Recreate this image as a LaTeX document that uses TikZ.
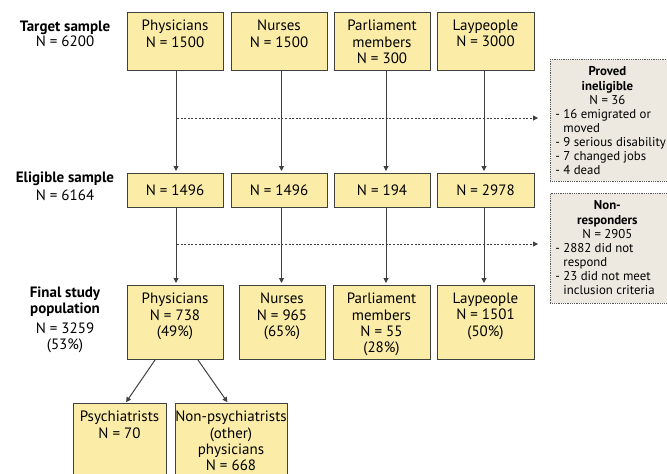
\documentclass[tikz,border=0pt]{standalone}
\usepackage{fontspec}
\setmainfont{PT Sans}
\usetikzlibrary{arrows.meta}
\definecolor{boxfill}{HTML}{FBEDA8}
\definecolor{boxline}{HTML}{404040}
\definecolor{greyfill}{HTML}{EDE9E0}
\definecolor{greyline}{HTML}{5A5A5A}
\newcommand{\ctr}[1]{\makebox[104pt]{#1}}
\newcommand{\dsh}{\makebox[8pt][l]{-}}

\begin{document}
\begin{tikzpicture}[x=1pt,y=-1pt,
  ybox/.style 2 args={draw=boxline, fill=boxfill, line width=1pt, inner sep=0pt, anchor=north,
    execute at begin node={\begin{minipage}[c][#2][t]{#1}\centering\fontsize{15}{16.4}\selectfont\vspace*{7.5pt}},
    execute at end node={\end{minipage}}},
  ebox/.style={draw=boxline, fill=boxfill, line width=1pt, anchor=north, minimum width=96pt,
    minimum height=34pt, inner sep=0pt, font=\fontsize{15}{16.4}\selectfont},
  gbox/.style 2 args={draw=greyline, fill=greyfill, line width=0.8pt, densely dotted, inner sep=0pt,
    anchor=north west,
    execute at begin node={\begin{minipage}[c][#2][t]{#1}\raggedright\leftskip=5pt\fontsize{12.8}{14.1}\selectfont\vspace*{7.5pt}},
    execute at end node={\end{minipage}}},
  lab/.style={align=center, anchor=north, font=\fontsize{15}{16.4}\selectfont},
  arr/.style={draw=boxline, line width=1pt, -{Triangle[length=5pt,width=5pt]}, shorten >=2pt},
  dotarr/.style={draw=boxline, line width=0.9pt, dash pattern=on 2pt off 1.6pt,
    -{Triangle[length=5pt,width=5pt]}}]
  \clip (0,0) rectangle (667,474);

  \node[lab] (labT) at (65,17) {\textbf{Target sample}\\[-1pt]N = 6200};
  \node[lab] (labE) at (65,168) {\textbf{Eligible sample}\\[2pt]N = 6164};
  \node[lab] (labF) at (65,283) {\textbf{Final study}\\\textbf{population}\\[3pt]N = 3259\\(53\%)};

  \node[ybox={96pt}{58pt}] (physT) at (175,12) {Physicians\\N = 1500};
  \node[ybox={96pt}{58pt}] (nursT) at (279,12) {Nurses\\N = 1500};
  \node[ybox={96pt}{58pt}] (parlT) at (382,12) {Parliament\\members\\N = 300};
  \node[ybox={97pt}{58pt}] (layT) at (485.5,12) {Laypeople\\N = 3000};

  \node[ebox] (physE) at (175,173) {N = 1496};
  \node[ebox] (nursE) at (279,173) {N = 1496};
  \node[ebox] (parlE) at (382,173) {N = 194};
  \node[ebox, minimum width=97pt] (layE) at (485.5,173) {N = 2978};

  \node[ybox={96pt}{74pt}] (physF) at (175,285) {Physicians\\N = 738\\(49\%)};
  \node[ybox={86pt}{74pt}] (nursF) at (282,285) {Nurses\\N = 965\\(65\%)};
  \node[ybox={97pt}{74pt}] (parlF) at (381.5,285) {Parliament\\members\\N = 55\\(28\%)};
  \node[ybox={97pt}{74pt}] (layF) at (485.5,285) {Laypeople\\N = 1501\\(50\%)};

  \node[ybox={93pt}{90pt}] (psych) at (119.5,403) {Psychiatrists\\N = 70};
  \node[ybox={112pt}{90pt}] (nonpsych) at (231,403) {Non-psychiatrists\\(other)\\physicians\\N = 668};

  \node[gbox={130pt}{122pt}] (inelig) at (550,59) {\ctr{\textbf{Proved}}\\\ctr{\textbf{ineligible}}\\\ctr{N = 36}\\
    \dsh 16 emigrated or\\\hspace*{8pt}moved\\\dsh 9 serious disability\\\dsh 7 changed jobs\\\dsh 4 dead};
  \node[gbox={130pt}{110pt}] (nonresp) at (550,193) {\ctr{\textbf{Non-}}\\\ctr{\textbf{responders}}\\\ctr{N = 2905}\\
    \dsh 2882 did not\\\hspace*{8pt}respond\\\dsh 23 did not meet\\\hspace*{8pt}inclusion criteria};

  \draw[arr] ([xshift=1pt]physT.south) -- ([xshift=1pt]physE.north);
  \draw[arr] ([xshift=2.5pt]nursT.south) -- ([xshift=2.5pt]nursE.north);
  \draw[arr] ([xshift=4pt]parlT.south) -- ([xshift=4pt]parlE.north);
  \draw[arr] ([xshift=-1.5pt]layT.south) -- ([xshift=-1.5pt]layE.north);

  \draw[arr] ([xshift=1pt]physE.south) -- ([xshift=1pt]physF.north);
  \draw[arr] ([xshift=2.5pt]nursE.south) -- ([xshift=-0.5pt]nursF.north);
  \draw[arr] ([xshift=4pt]parlE.south) -- ([xshift=4.5pt]parlF.north);
  \draw[arr] ([xshift=-1.5pt]layE.south) -- ([xshift=-1.5pt]layF.north);

  \coordinate (d1) at ([xshift=2pt,yshift=-47pt]physT.south);
  \coordinate (d2) at ([xshift=2pt,yshift=-36pt]physE.south);
  \draw[dotarr] (d1) -- ([xshift=-12pt]inelig.west |- d1);
  \draw[dotarr] (d2) -- ([xshift=-12pt]nonresp.west |- d2);

  \draw[arr, shorten >=1pt] ([xshift=-20pt]physF.south) -- ([xshift=6pt]psych.north);
  \draw[arr, shorten >=1pt] ([xshift=23pt]physF.south) -- ([xshift=-3pt]nonpsych.north);
\end{tikzpicture}
\end{document}
